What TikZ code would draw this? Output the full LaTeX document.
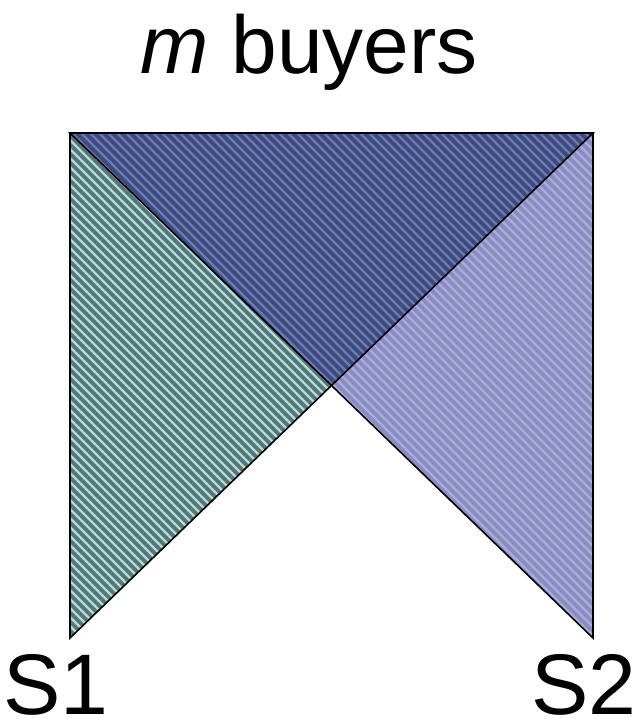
\documentclass[tikz,border=0pt]{standalone}
\usepackage{fontspec}
\setmainfont{Liberation Sans}
\usetikzlibrary{calc}
\definecolor{sOneBase}{RGB}{92,116,116}
\definecolor{sOneLine}{RGB}{168,224,224}
\definecolor{sTwoBase}{RGB}{136,140,198}
\definecolor{sTwoLine}{RGB}{172,172,208}
\definecolor{bothBase}{RGB}{62,74,126}
\definecolor{bothLine}{RGB}{106,122,178}

\begin{document}
\begin{tikzpicture}[
    x=0.5pt, y=-0.5pt,
    hatch/.style={line width=1.2pt},
    outline/.style={draw=black, line width=0.8pt, line join=miter},
    lbl/.style={font=\fontsize{43}{48}\selectfont, anchor=base, inner sep=0pt},
    ttl/.style={font=\fontsize{41}{48}\selectfont, anchor=base, inner sep=0pt}
]
\useasboundingbox (0,0) rectangle (635,722);

% --- corners of the square ---
\coordinate (tl) at (70,133);
\coordinate (tr) at (593,133);
\coordinate (bl) at (70,638);
\coordinate (br) at (593,638);
\coordinate (mid) at (331.5,385.5);

% --- S1 region (left) ---
\fill[sOneBase] (tl) -- (mid) -- (bl) -- cycle;
\begin{scope}
  \clip (tl) -- (mid) -- (bl) -- cycle;
  \foreach \s in {-600,-591,...,600}
    \draw[hatch, sOneLine] (\s,100) -- ++(600,600);
\end{scope}

% --- S2 region (right) ---
\fill[sTwoBase] (tr) -- (br) -- (mid) -- cycle;
\begin{scope}
  \clip (tr) -- (br) -- (mid) -- cycle;
  \foreach \s in {-600,-591,...,600}
    \draw[hatch, sTwoLine] (\s,100) -- ++(600,600);
\end{scope}

% --- overlap (top) ---
\fill[bothBase] (tl) -- (tr) -- (mid) -- cycle;
\begin{scope}
  \clip (tl) -- (tr) -- (mid) -- cycle;
  \foreach \s in {-600,-591,...,600}
    \draw[hatch, bothLine] (\s,100) -- ++(600,600);
\end{scope}

% outlines
\draw[outline] (tl) -- (tr) -- (bl) -- cycle;
\draw[outline] (tl) -- (tr) -- (br) -- cycle;

% labels
\node[ttl] (title) at (309,74) {\textit{m} buyers};
\node[lbl] (sone) at (56,714) {S1};
\node[lbl] (stwo) at (584,714) {S2};

\end{tikzpicture}
\end{document}
